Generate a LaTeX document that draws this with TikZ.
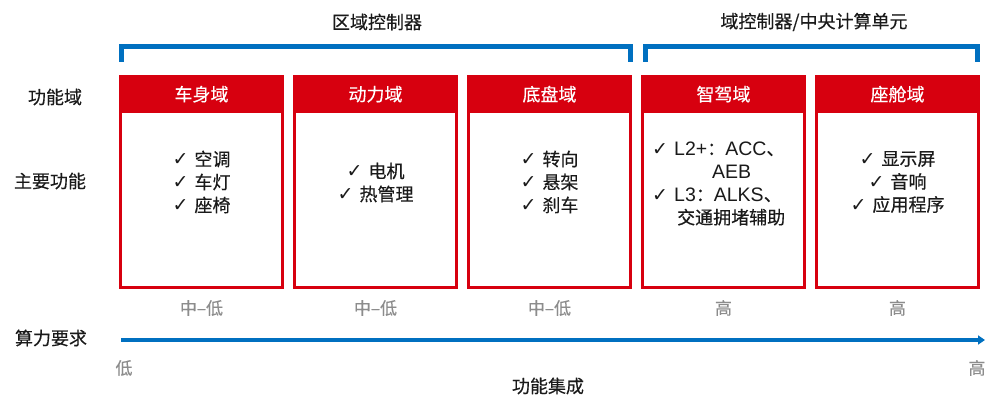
\documentclass[tikz,border=0pt]{standalone}
\usepackage{fontspec}
\setmainfont{Noto Sans CJK SC}[FakeBold=0.3]
\newfontfamily\symfont{DejaVu Sans}
\newfontfamily\latfont{Liberation Sans}
\usetikzlibrary{arrows.meta}
\definecolor{cred}{HTML}{D7000F}
\definecolor{cblue}{HTML}{0070C0}
\definecolor{cgray}{HTML}{8C8C8C}
\definecolor{ctext}{HTML}{1A1A1A}
\newcommand{\ck}{\makebox[22pt][l]{\symfont\fontsize{19}{19}\selectfont ✓}}
\newcommand{\lt}[1]{{\latfont\fontsize{19.5}{23}\selectfont #1}}
\begin{document}
\begin{tikzpicture}[x=1pt,y=-1pt,
  every node/.style={font=\fontsize{18}{23}\selectfont,text=ctext,inner sep=0pt},
  bodybox/.style={draw=cred,line width=3pt,minimum width=162pt,minimum height=210pt,anchor=north,fill=white},
  headbox/.style={fill=cred,minimum width=165pt,minimum height=38pt,anchor=north,text=white},
  items/.style={align=center},
  rate/.style={text=cgray,font=\fontsize{17}{20}\selectfont},
  lab/.style={font=\fontsize{18}{20}\selectfont},
  bracket/.style={draw=cblue,line width=5pt},
  axis/.style={draw=cblue,line width=4.5pt,-{Triangle[length=7pt,width=9pt]}}
]
\useasboundingbox (0,0) rectangle (997,398);

% titles and brackets
\node[lab] (t1) at (377,22) {区域控制器};
\node[lab] (t2) at (814,22) {域控制器/中央计算单元};
\coordinate (b1a) at (121.5,62);
\coordinate (b1b) at (630,62);
\coordinate (b2a) at (645,62);
\coordinate (b2b) at (977.5,62);
\draw[bracket] (b1a) -- ++(0,-15.5) -| (b1b);
\draw[bracket] (b2a) -- ++(0,-15.5) -| (b2b);

% left labels
\node[lab] (l1) at (55,97) {功能域};
\node[lab] (l2) at (50,181) {主要功能};
\node[lab] (l3) at (51,338) {算力要求};

% boxes
\foreach \i/\x/\h in {1/201.5/车身域,2/375.5/动力域,3/549.5/底盘域,4/723.5/智驾域,5/897.5/座舱域}{
  \node[bodybox] (body\i) at (\x,76.5) {};
  \node[headbox] (head\i) at (\x,75) {\h};
}

% contents
\node[items] (c1) at (201.5,182) {\ck 空调\\\ck 车灯\\\ck 座椅};
\node[items] (c2) at (375.5,182.5) {\ck 电机\\\ck 热管理};
\node[items] (c3) at (549.5,182) {\ck 转向\\\ck 悬架\\\ck 刹车};
\node[align=left,anchor=west] (c4) at (652,183.5) {\ck \lt{L2+}：\lt{ACC}、\\\hspace{60pt}\lt{AEB}\\\ck \lt{L3}：\lt{ALKS}、\\\hspace{25pt}交通拥堵辅助};
\node[items] (c5) at (897.5,182) {\ck 显示屏\\\ck 音响\\\ck 应用程序};

% ratings
\node[rate] (r1) at (201.5,308) {中–低};
\node[rate] (r2) at (375.5,308) {中–低};
\node[rate] (r3) at (549.5,308) {中–低};
\node[rate] (r4) at (723.5,308) {高};
\node[rate] (r5) at (897.5,308) {高};

% axis
\coordinate (a0) at (121,340);
\coordinate (a1) at (985,340);
\draw[axis] (a0) -- (a1);
\node[rate] (lo) at (124,368) {低};
\node[rate] (hi) at (977,368) {高};
\node[lab] (fx) at (548,386) {功能集成};
\end{tikzpicture}
\end{document}
